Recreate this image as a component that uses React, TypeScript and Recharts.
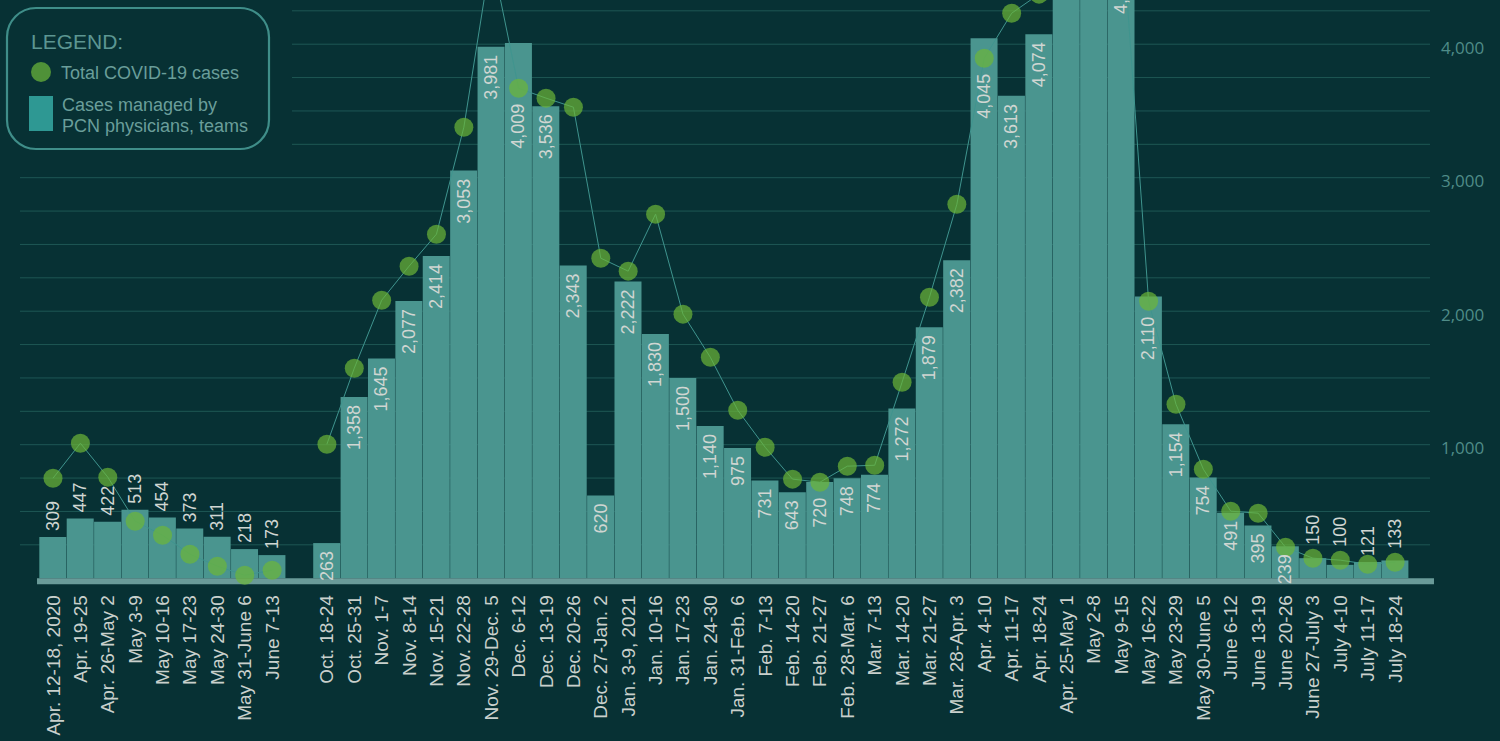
import { ComposedChart, Bar, Line, XAxis, YAxis, CartesianGrid, LabelList } from "recharts"

// weekly buckets, the empty one is the summer break in the original graphic
const weeks = [
    "Apr. 12-18, 2020", "Apr. 19-25", "Apr. 26-May 2", "May 3-9", "May 10-16", "May 17-23",
    "May 24-30", "May 31-June 6", "June 7-13", "",
    "Oct. 18-24", "Oct. 25-31", "Nov. 1-7", "Nov. 8-14", "Nov. 15-21", "Nov. 22-28",
    "Nov. 29-Dec. 5", "Dec. 6-12", "Dec. 13-19", "Dec. 20-26", "Dec. 27-Jan. 2",
    "Jan. 3-9, 2021", "Jan. 10-16", "Jan. 17-23", "Jan. 24-30", "Jan. 31-Feb. 6",
    "Feb. 7-13", "Feb. 14-20", "Feb. 21-27", "Feb. 28-Mar. 6", "Mar. 7-13", "Mar. 14-20",
    "Mar. 21-27", "Mar. 28-Apr. 3", "Apr. 4-10", "Apr. 11-17", "Apr. 18-24", "Apr. 25-May 1",
    "May 2-8", "May 9-15", "May 16-22", "May 23-29", "May 30-June 5", "June 6-12",
    "June 13-19", "June 20-26", "June 27-July 3", "July 4-10", "July 11-17", "July 18-24",
]

// cases managed by PCN physicians / teams (bars)
const pcnCases = [
    309, 447, 422, 513, 454, 373, 311, 218, 173, null,
    263, 1358, 1645, 2077, 2414, 3053, 3981, 4009, 3536, 2343, 620,
    2222, 1830, 1500, 1140, 975, 731, 643, 720, 748, 774, 1272,
    1879, 2382, 4045, 3613, 4074, 4850, 4980, 4623, 2110, 1154, 754, 491,
    395, 239, 150, 100, 121, 133,
]

// total COVID-19 cases (dots)
const totalCases = [
    749, 1011, 757, 427, 322, 180, 90, 22, 60, null,
    1004, 1573, 2082, 2337, 2577, 3378, 4670, 3670, 3596, 3528, 2397,
    2300, 2727, 1978, 1655, 1258, 981, 742, 719, 839, 846, 1468,
    2105, 2801, 3895, 4232, 4375, 5020, 5100, 4960, 2075, 1303, 816, 502,
    487, 232, 150, 135, 105, 120,
]

const rightTicks = [1000, 2000, 3000, 4000]
const gridValues = [
    250, 500, 750, 1000, 1250, 1500, 1750, 2000, 2250, 2500,
    2750, 3000, 3250, 3500, 3750, 4000, 4250, 4500, 4750, 5000,
]

const chartData = weeks.map((week, i) => ({
    week,
    pcn: pcnCases[i],
    total: totalCases[i],
}))

const BG = "#073134"
const BAR = "#4a958f"
const LINE = "#3f958f"
const DOT = "#6cb737"
const LABEL = "#d0d6d2"

// the original is a crop: the zero line sits at y=578 and the tops run off the page
const ZERO_Y = 578
const PX_PER_CASE = 0.1335
const Y_MAX = 5200
const PLOT_H = Y_MAX * PX_PER_CASE
const AXIS_H = 200
const DOT_R = 9.5

const fmt = (v: number) => String(v).replace(/\B(?=(\d{3})+(?!\d))/g, ",")

const XTick = ({ x, y, payload }: any) => (
    <text
        x={x}
        y={y}
        transform={`rotate(-90 ${x} ${y})`}
        textAnchor="end"
        dominantBaseline="central"
        fill="#c9d0cc"
        fontSize={19}
        fontFamily="'Liberation Sans', Arial, sans-serif"
    >
        {payload.value}
    </text>
)

const YTick = ({ x, y, payload }: any) => (
    <text
        x={x}
        y={y + 3}
        textAnchor="start"
        dominantBaseline="central"
        fill="#4f8c88"
        fontSize={17}
        fontFamily="'Open Sans', sans-serif"
    >
        {fmt(payload.value)}
    </text>
)

const GridLine = (props: any) => (
    <line
        key={props.key ?? `g-${props.index}`}
        x1={props.x1 - 17}
        x2={props.x2 - 4}
        y1={props.y1}
        y2={props.y2}
        stroke="#1e5754"
        strokeWidth={1}
    />
)

const renderDot = (p: any) => {
    if (p.cy == null || p.value == null) return <g key={`d-${p.index}`} />
    return <circle key={`d-${p.index}`} cx={p.cx} cy={p.cy} r={DOT_R} fill={DOT} fillOpacity={0.7} />
}

// labels sit inside the bar top, or above it for the small ones, and dodge the dots
const renderBarLabel = (props: any) => {
    const vb = props.viewBox ?? props
    const value = props.value
    if (value == null || !vb || vb.height == null) return null
    // the label list skips the empty week, so find the row by its value
    let row = props.payload ? chartData.indexOf(props.payload) : -1
    if (row < 0) row = pcnCases.indexOf(value)
    const x = vb.x
    const w = vb.width
    const top = Math.min(vb.y, vb.y + vb.height)
    const base = Math.max(vb.y, vb.y + vb.height)
    const k = (base - top) / value
    const text = fmt(value)
    const len = text.length * 10 - (text.includes(",") ? 5 : 0)
    const t = totalCases[row]
    const dotY = t == null ? null : base - t * k
    const cx = x + w / 2
    const hit = (a: number, b: number) => dotY != null && dotY + 8 > a && dotY - 8 < b
    const outside = row < 9 || value < 200
    const common = {
        fill: LABEL,
        fontSize: 18,
        fontFamily: "'Liberation Sans', Arial, sans-serif",
        dominantBaseline: "central" as const,
    }
    if (outside) {
        let start = top - 6
        if (hit(start - len, start)) start = (dotY as number) - DOT_R - 4
        return (
            <text x={cx} y={start} transform={`rotate(-90 ${cx} ${start})`} textAnchor="start" {...common}>
                {text}
            </text>
        )
    }
    let end = top + 8
    if (hit(end, end + len) && (dotY as number) + DOT_R + 6 + len < base) end = (dotY as number) + DOT_R + 6
    return (
        <text x={cx} y={end} transform={`rotate(-90 ${cx} ${end})`} textAnchor="end" {...common}>
            {text}
        </text>
    )
}

function Legend() {
    const font = "'Liberation Sans', Arial, sans-serif"
    return (
        <svg width={292} height={168} style={{ position: "absolute", left: 0, top: 0 }}>
            <rect x={0} y={0} width={292} height={168} fill={BG} />
            <rect x={7} y={8} width={262} height={141} rx={29} fill="none" stroke="#3f8e89" strokeWidth={2.2} />
            <text x={31} y={49} fontSize={21} fill="#5c9692" fontFamily={font}>LEGEND:</text>
            <circle cx={41} cy={72} r={10} fill="#4f9138" />
            <text x={61} y={79} fontSize={18} fill="#6a9e9a" fontFamily={font}>Total COVID-19 cases</text>
            <rect x={29} y={96} width={24} height={35} fill="#2e9893" />
            <text x={62} y={111} fontSize={18} fill="#6a9e9a" fontFamily={font}>Cases managed by</text>
            <text x={62} y={132} fontSize={18} fill="#6a9e9a" fontFamily={font}>PCN physicians, teams</text>
        </svg>
    )
}

export default function App() {
    return (
        <div style={{ position: "fixed", left: 0, top: 0, width: 1500, height: 741, overflow: "hidden", background: BG }}>
            <div style={{ position: "absolute", left: 0, top: ZERO_Y - PLOT_H }}>
                <ComposedChart
                    width={1500}
                    height={PLOT_H + AXIS_H}
                    data={chartData}
                    margin={{ top: 0, right: 0, bottom: 0, left: 37 }}
                    barCategoryGap={0}
                    barGap={0}
                >
                    <CartesianGrid vertical={false} horizontalValues={gridValues} horizontal={GridLine} />
                    <XAxis
                        dataKey="week"
                        interval={0}
                        height={AXIS_H}
                        padding={{ left: 2.3, right: 25.2 }}
                        tickLine={false}
                        tickSize={0}
                        tickMargin={17}
                        tick={<XTick />}
                        axisLine={{ stroke: "#6a9b99", strokeWidth: 6, transform: "translate(0 3)" }}
                    />
                    <YAxis
                        orientation="right"
                        width={66}
                        domain={[0, Y_MAX]}
                        ticks={rightTicks}
                        axisLine={false}
                        tickLine={false}
                        tickSize={0}
                        tickMargin={7}
                        tick={<YTick />}
                    />
                    <Bar dataKey="pcn" fill={BAR} isAnimationActive={false}>
                        <LabelList dataKey="pcn" content={renderBarLabel} />
                    </Bar>
                    <Line
                        dataKey="total"
                        stroke="none"
                        strokeWidth={0}
                        dot={renderDot}
                        activeDot={false}
                        isAnimationActive={false}
                    />
                    <Line
                        dataKey="total"
                        stroke={LINE}
                        strokeWidth={1}
                        dot={false}
                        activeDot={false}
                        isAnimationActive={false}
                    />
                </ComposedChart>
            </div>
            <Legend />
        </div>
    )
}
